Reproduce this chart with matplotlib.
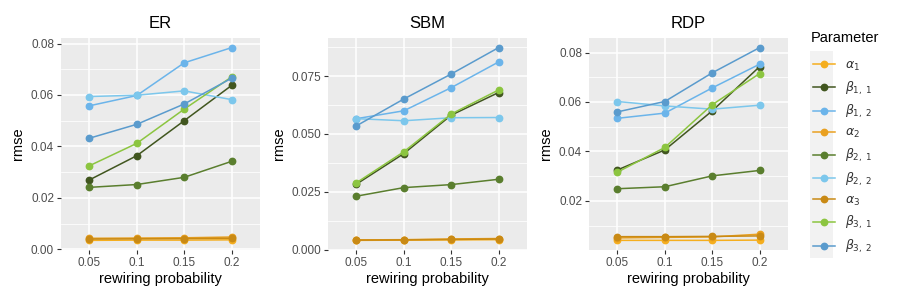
import matplotlib
matplotlib.use("Agg")
import matplotlib.pyplot as plt
from matplotlib.ticker import MultipleLocator
from matplotlib.patches import Rectangle

plt.rcParams['font.family'] = ['Liberation Sans', 'DejaVu Sans']
plt.rcParams['mathtext.fontset'] = 'dejavusans'

# ---------------- data ----------------
probs = ["0.05", "0.1", "0.15", "0.2"]
labels = [r"$\alpha_1$", r"$\beta_{1,\ 1}$", r"$\beta_{1,\ 2}$",
          r"$\alpha_2$", r"$\beta_{2,\ 1}$", r"$\beta_{2,\ 2}$",
          r"$\alpha_3$", r"$\beta_{3,\ 1}$", r"$\beta_{3,\ 2}$"]
colors = ["#F5AE1E", "#41561F", "#6BB4EA",
          "#E9A020", "#5A7E2E", "#7CC7EC",
          "#C98A15", "#8CC540", "#5A9BCD"]

# rows follow the order of labels
er = [[0.0035, 0.0036, 0.0036, 0.0037],
      [0.0270, 0.0364, 0.0500, 0.0637],
      [0.0558, 0.0598, 0.0725, 0.0784],
      [0.0043, 0.0044, 0.0045, 0.0048],
      [0.0241, 0.0252, 0.0280, 0.0342],
      [0.0594, 0.0599, 0.0616, 0.0582],
      [0.0040, 0.0041, 0.0042, 0.0043],
      [0.0325, 0.0412, 0.0545, 0.0670],
      [0.0432, 0.0486, 0.0565, 0.0665]]

sbm = [[0.0040, 0.0041, 0.0042, 0.0043],
       [0.0283, 0.0415, 0.0581, 0.0679],
       [0.0566, 0.0600, 0.0700, 0.0811],
       [0.0042, 0.0043, 0.0046, 0.0048],
       [0.0231, 0.0268, 0.0281, 0.0304],
       [0.0566, 0.0557, 0.0570, 0.0571],
       [0.0041, 0.0042, 0.0044, 0.0046],
       [0.0289, 0.0423, 0.0586, 0.0690],
       [0.0535, 0.0651, 0.0759, 0.0873]]

rdp = [[0.0040, 0.0040, 0.0040, 0.0041],
       [0.0325, 0.0406, 0.0564, 0.0743],
       [0.0534, 0.0555, 0.0657, 0.0753],
       [0.0050, 0.0052, 0.0054, 0.0065],
       [0.0249, 0.0257, 0.0301, 0.0323],
       [0.0602, 0.0584, 0.0571, 0.0587],
       [0.0055, 0.0055, 0.0056, 0.0058],
       [0.0316, 0.0416, 0.0589, 0.0715],
       [0.0560, 0.0602, 0.0718, 0.0820]]

panels = [("ER", er, 0.02, "%.2f"),
          ("SBM", sbm, 0.025, "%.3f"),
          ("RDP", rdp, 0.02, "%.2f")]

#############################################

W, H = 900, 300
fig = plt.figure(figsize=(9, 3), dpi=100)
lefts = [61, 328, 589]
pw, top, bot = 199, 38, 250

handles = []
for (name, data, step, fmt), lx in zip(panels, lefts):
    ax = fig.add_axes([lx / W, 1 - bot / H, pw / W, (bot - top) / H])
    ax.set_facecolor("#EBEBEB")
    for s in ax.spines.values():
        s.set_visible(False)
    hs = []
    for vals, c in zip(data, colors):
        h, = ax.plot(probs, vals, color=c, lw=1.1, marker="o", ms=4.6,
                     mec=c, mfc=c)
        hs.append(h)
    handles = hs
    lo = min(min(r) for r in data)
    hi = max(max(r) for r in data)
    pad = 0.05 * (hi - lo)
    ax.set_ylim(lo - pad, hi + pad)
    ax.set_xlim(-0.6, 3.6)
    ax.yaxis.set_major_locator(MultipleLocator(step))
    ax.yaxis.set_minor_locator(MultipleLocator(step / 2))
    ax.yaxis.set_major_formatter(matplotlib.ticker.FormatStrFormatter(fmt))
    ax.grid(True, which="major", color="white", lw=1.1)
    ax.grid(True, which="minor", axis="y", color="white", lw=0.55)
    ax.set_axisbelow(True)
    ax.tick_params(which="major", length=3, width=0.8, color="#333333",
                   labelsize=8.5, labelcolor="#4D4D4D", pad=2)
    ax.tick_params(which="minor", length=0)
    ax.set_title(name, fontsize=12, pad=7)
    ax.set_xlabel("rewiring probability", fontsize=10.5, labelpad=2)
    ax.set_ylabel("rmse", fontsize=10.5, labelpad=4)

# legend
fig.patches.append(Rectangle((810 / W, 1 - 258 / H), 23 / W, 207 / H,
                             transform=fig.transFigure, facecolor="#F2F2F2",
                             edgecolor="none", zorder=0))
fig.text(811 / W, 1 - 38 / H, "Parameter", fontsize=10.5, va="center",
         ha="left")
leg = fig.legend(handles, labels, loc="upper left",
                 bbox_to_anchor=(804 / W, 1 - 51 / H), frameon=False,
                 fontsize=9, handlelength=1.8, handletextpad=0.8,
                 labelspacing=0.53, borderpad=0.2)
for t in leg.get_texts():
    t.set_color("#333333")

fig.savefig("out.png", dpi=100)
